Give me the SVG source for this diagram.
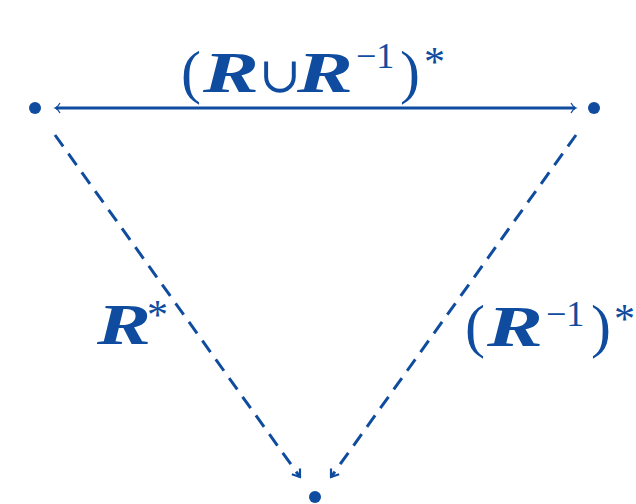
<svg xmlns="http://www.w3.org/2000/svg" width="636" height="504" viewBox="0 0 636 504">
<style>
.c{fill:#0f4c9f;}
.e{stroke:#0f4c9f;fill:none;}
.t{font-family:"Liberation Serif","DejaVu Serif",serif;fill:#0f4c9f;}
.r{font-family:"Liberation Serif","DejaVu Serif",serif;font-weight:bold;font-style:italic;fill:#0f4c9f;font-size:57px;}
.p{font-size:60px;}
.u{font-size:50px;}
.s{font-size:36px;}
.a{font-size:42px;}
</style>
<defs>
<marker id="oa" viewBox="-6 -6 12 12" markerWidth="12" markerHeight="12" markerUnits="userSpaceOnUse" orient="auto-start-reverse" refX="0" refY="0">
<path d="M-4,-5 Q-2,-1 1,0 Q-2,1 -4,5" fill="none" stroke="#0f4c9f" stroke-width="1.2"/>
</marker>
<marker id="da" viewBox="-10 -8 12 16" markerWidth="12" markerHeight="16" markerUnits="userSpaceOnUse" orient="auto" refX="0" refY="0">
<path d="M-7,-5 L0,0 L-7,5" fill="none" stroke="#0f4c9f" stroke-width="2.2"/>
</marker>
</defs>
<g id="connectors">
<line class="e" x1="56" y1="108" x2="575" y2="108" stroke-width="3" marker-start="url(#oa)" marker-end="url(#oa)"/>
<line class="e" x1="55" y1="135" x2="300" y2="477" stroke-width="3" stroke-dasharray="14 9" marker-end="url(#da)"/>
<line class="e" x1="576" y1="135" x2="331" y2="477" stroke-width="3" stroke-dasharray="14 9" marker-end="url(#da)"/>
</g>
<g id="n1"><circle class="c" cx="35" cy="108" r="6"/></g>
<g id="n2"><circle class="c" cx="594" cy="108" r="6"/></g>
<g id="n3"><circle class="c" cx="315" cy="497" r="6"/></g>
<g id="label-top">
<text class="t p" x="181" y="92">(</text>
<text class="r" x="203" y="92" textLength="56" lengthAdjust="spacingAndGlyphs">R</text>
<text class="t u" x="259" y="92">∪</text>
<text class="r" x="297" y="92" textLength="56" lengthAdjust="spacingAndGlyphs">R</text>
<text class="t s" x="356" y="68">−1</text>
<text class="t p" x="400" y="92">)</text>
<text class="t a" x="424" y="76">*</text>
</g>
<g id="label-left">
<text class="r" x="97" y="344" textLength="54" lengthAdjust="spacingAndGlyphs">R</text>
<text class="t a" x="147" y="329">*</text>
</g>
<g id="label-right">
<text class="t p" x="465" y="346">(</text>
<text class="r" x="487" y="346" textLength="56" lengthAdjust="spacingAndGlyphs">R</text>
<text class="t s" x="546" y="326">−1</text>
<text class="t p" x="591" y="346">)</text>
<text class="t a" x="614" y="333">*</text>
</g>
</svg>
